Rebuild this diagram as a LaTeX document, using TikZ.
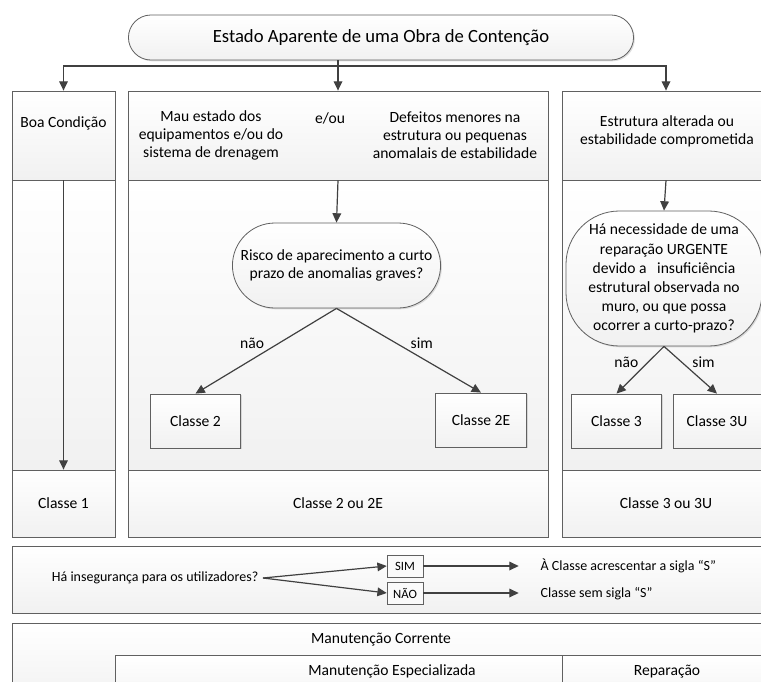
\documentclass[tikz,border=0pt]{standalone}
\usepackage{fontspec}
\setmainfont{Carlito}
\usetikzlibrary{shapes.geometric, shapes.misc, positioning, arrows.meta, shadows}

\tikzset{
  panel/.style={draw=gray!75!black, line width=0.6pt, top color=white, bottom color=gray!11,
    drop shadow={shadow xshift=1pt, shadow yshift=-1pt, opacity=0.25}},
  classbox/.style={panel, minimum width=68pt, minimum height=40.5pt},
  pill/.style={rounded rectangle, panel, align=center},
  tag/.style={draw=gray!75!black, fill=gray!4, font=\fontsize{9.5}{10}\selectfont,
    minimum width=27pt, minimum height=16.5pt, inner sep=1pt,
    drop shadow={shadow xshift=0.8pt, shadow yshift=-0.8pt, opacity=0.25}},
  conn/.style={draw=black!75, line width=0.9pt, -{Triangle[length=7pt, width=6.5pt]}},
  small/.style={font=\fontsize{10.5}{12}\selectfont},
}

\begin{document}
\begin{tikzpicture}[x=0.75pt, y=-0.75pt, font=\fontsize{11.7}{13.5}\selectfont]
\useasboundingbox (0,0) rectangle (761,682);
\clip (0,0) rectangle (761,682);

% title
\node[pill, minimum width=385.5pt, minimum height=33.75pt, font=\fontsize{14}{16}\selectfont] (title) at (381,37.5) {Estado Aparente de uma Obra de Contenção};

% left column
\node[panel, minimum width=77.25pt, minimum height=66.75pt] (lefthead) at (63.5,135.5) {};
\node[panel, minimum width=77.25pt, minimum height=217.5pt] (leftbody) at (63.5,325) {};
\node[panel, minimum width=77.25pt, minimum height=50.25pt] (leftfoot) at (63.5,503.5) {Classe 1};
\node (good) at (63.5,123) {Boa Condição};

% middle column
\node[panel, minimum width=315pt, minimum height=66.75pt] (midhead) at (338,135.5) {};
\node[panel, minimum width=315pt, minimum height=217.5pt] (midbody) at (338,325) {};
\node[panel, minimum width=315pt, minimum height=50.25pt] (midfoot) at (338,503.5) {Classe 2 ou 2E};
\node[align=center] (poorstate) at (211,135) {Mau estado dos\\equipamentos e/ou do\\sistema de drenagem};
\node (andor) at (330,118) {e/ou};
\node[align=center] (minordefects) at (455,135) {Defeitos menores na\\estrutura ou pequenas\\anomalais de estabilidade};
\node[pill, minimum width=162.75pt, minimum height=63.75pt] (risk) at (336.5,265.5) {Risco de aparecimento a curto\\prazo de anomalias graves?};
\node[classbox] (c2) at (195.5,421) {Classe 2};
\node[classbox] (c2e) at (481,420) {Classe 2E};

% right column
\node[panel, minimum width=156pt, minimum height=66.75pt] (righthead) at (666,135.5) {};
\node[panel, minimum width=156pt, minimum height=217.5pt] (rightbody) at (666,325) {};
\node[panel, minimum width=156pt, minimum height=50.25pt] (rightfoot) at (666,503.5) {Classe 3 ou 3U};
\node[align=center] (altered) at (667,131) {Estrutura alterada ou\\estabilidade comprometida};
\node[panel, rounded corners=40pt, minimum width=147pt, minimum height=101.25pt, align=center, inner sep=1pt,
  font=\fontsize{11.7}{14.3}\selectfont] (urgent) at (664,278.5)
  {Há necessidade de uma\\reparação URGENTE\\devido a \ \ insuficiência\\estrutural observada no\\muro, ou que possa\\ocorrer a curto-prazo?};
\node[classbox] (c3) at (616.5,421) {Classe 3};
\node[classbox, minimum width=66pt] (c3u) at (717,421) {Classe 3U};

% connectors
\coordinate (split) at (338,66);
\draw[conn] (title.south -| midhead) -- (midhead.north);
\draw[conn] (split) -| (lefthead.north);
\draw[conn] (split) -| (righthead.north);
\draw[conn] (lefthead.south) -- (leftfoot.north);
\draw[conn] (midhead.south) -- (risk.north);
\draw[conn] (righthead.south) -- (urgent.north);
\draw[conn] (risk.south) -- (c2.north) node[midway, above left, inner sep=1pt] {não};
\draw[conn] (risk.south) -- (c2e.north) node[midway, above right, inner sep=1pt] {sim};
\draw[conn] (urgent.south) -- (c3.north) node[midway, above left, inner sep=1pt] {não};
\draw[conn] (urgent.south) -- (c3u.north) node[midway, above right, inner sep=1pt] {sim};

% safety row
\node[panel, minimum width=568.5pt, minimum height=50.25pt] (safety) at (391,579.5) {};
\node[small, anchor=east] (unsafe) at (263,578) {Há insegurança para os utilizadores?};
\node[tag] (yes) at (405,566) {SIM};
\node[tag] (no) at (405,593) {NÃO};
\node[small, anchor=west] (addS) at (536,566) {À Classe acrescentar a sigla “S”};
\node[small, anchor=west] (noS) at (536,594) {Classe sem sigla “S”};
\draw[conn] (unsafe.east) -- (yes.west);
\draw[conn] (unsafe.east) -- (no.west);
\draw[conn, shorten >=13pt] (yes.east) -- (yes.east -| addS.west);
\draw[conn, shorten >=13pt] (no.east) -- (no.east -| noS.west);

% maintenance
\node[panel, minimum width=568.5pt, minimum height=60pt, anchor=north] (upkeep) at (391,623) {};
\node (upkeeplbl) at (381,640) {Manutenção Corrente};
\node[panel, minimum width=335.25pt, minimum height=40pt, anchor=north west] (special) at (115,655) {};
\node[panel, minimum width=156pt, minimum height=40pt, anchor=north west] (repair) at (562,655) {};
\node (speciallbl) at (392,671) {Manutenção Especializada};
\node (repairlbl) at (667,672) {Reparação};
\end{tikzpicture}
\end{document}
